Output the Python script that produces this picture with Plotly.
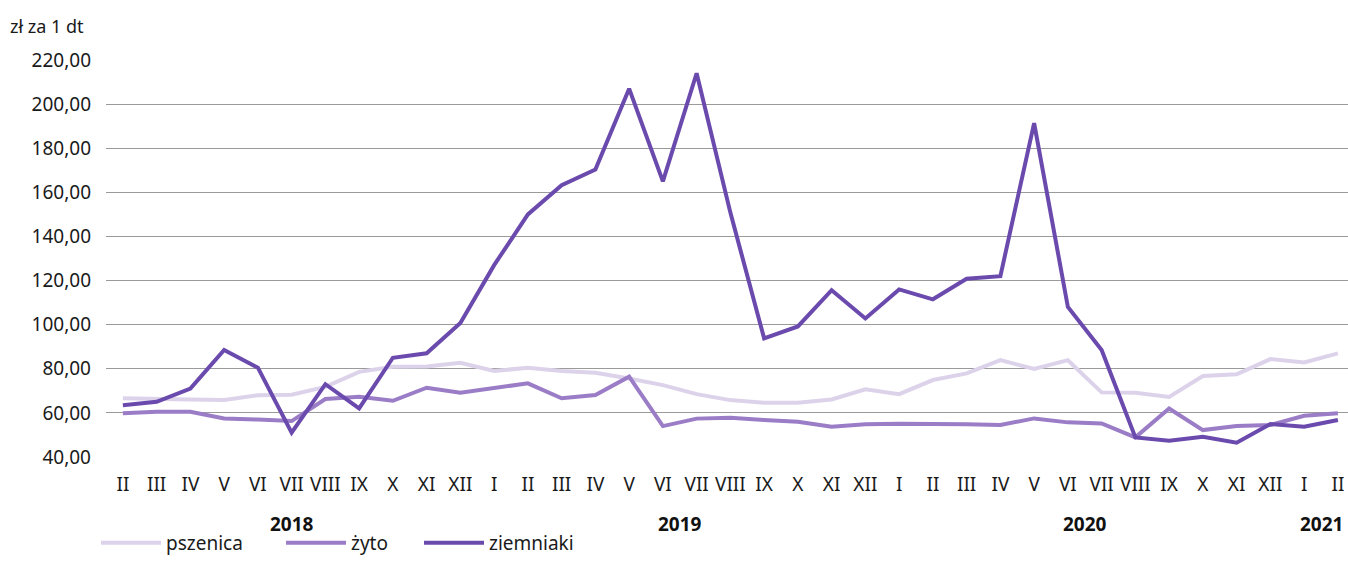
import plotly.graph_objects as go

months = ["II", "III", "IV", "V", "VI", "VII", "VIII", "IX", "X", "XI", "XII",
          "I", "II", "III", "IV", "V", "VI", "VII", "VIII", "IX", "X", "XI", "XII",
          "I", "II", "III", "IV", "V", "VI", "VII", "VIII", "IX", "X", "XI", "XII",
          "I", "II"]

pszenica = [66.6, 66.5, 66.1, 65.8, 68.0, 68.2, 71.8, 78.6, 80.9, 81.0, 82.7,
            79.0, 80.5, 79.0, 78.2, 75.6, 72.6, 68.5, 65.8, 64.6, 64.6, 66.1, 70.7,
            68.5, 74.9, 77.9, 83.9, 79.9, 83.9, 69.3, 69.1, 67.2, 76.7, 77.5, 84.4,
            82.9, 87.0]

zyto = [59.8, 60.5, 60.5, 57.5, 57.0, 56.3, 66.3, 67.3, 65.5, 71.4, 69.1,
        71.4, 73.4, 66.6, 68.1, 76.4, 54.0, 57.4, 57.8, 56.8, 56.0, 53.7, 54.8,
        55.1, 55.1, 54.8, 54.5, 57.5, 55.7, 55.2, 48.9, 62.0, 52.2, 54.0, 54.5,
        58.7, 59.8]

ziemniaki = [63.5, 65.0, 71.0, 88.5, 80.5, 51.0, 73.0, 62.0, 85.0, 87.0, 100.8,
             127.0, 150.0, 163.2, 170.3, 207.0, 165.0, 214.0, 150.8, 93.8, 99.2, 115.6, 102.8,
             116.0, 111.5, 120.8, 122.0, 191.4, 108.0, 88.5, 48.9, 47.4, 49.2, 46.5, 55.0,
             53.7, 56.8]

years = ["2018", "2019", "2020", "2021"]
year_pos = [5, 16.5, 28.5, 35.5]

ytick_vals = [40, 60, 80, 100, 120, 140, 160, 180, 200, 220]
ytick_text = ["40,00", "60,00", "80,00", "100,00", "120,00", "140,00",
              "160,00", "180,00", "200,00", "220,00"]

FONT = "Noto Sans"
x = list(range(len(months)))

series = [
    ("pszenica", pszenica, "#DCD3EB", "legend"),
    ("żyto", zyto, "#9A7DC6", "legend2"),
    ("ziemniaki", ziemniaki, "#6B4AAD", "legend3"),
]

fig = go.Figure()
for name, vals, col, lg in series:
    fig.add_trace(go.Scatter(x=x, y=vals, name=name, mode="lines",
                             line=dict(color=col, width=4), legend=lg))

L, T, B, H = 106, 59.5, 105, 562
W = 1348 - L
PH = H - T - B


def px(p):
    return (p - L) / W


def py(p):
    return 1 - (p - T) / PH


leg_common = dict(orientation="h", yanchor="bottom", xanchor="left",
                  font=dict(family=FONT, size=19, color="#1a1a1a"),
                  bgcolor="rgba(0,0,0,0)", borderwidth=0, itemwidth=60)

fig.update_layout(
    width=1348, height=562,
    margin=dict(l=L, r=0, t=T, b=B, autoexpand=False),
    paper_bgcolor="white", plot_bgcolor="white",
    font=dict(family=FONT, size=19, color="#1a1a1a"),
    showlegend=True,
    legend=dict(x=px(96), y=py(562), **leg_common),
    legend2=dict(x=px(281), y=py(562), **leg_common),
    legend3=dict(x=px(419), y=py(562), **leg_common),
    xaxis=dict(range=[-0.5, 36.3], tickmode="array", tickvals=x, ticktext=months,
               showgrid=False, zeroline=False, showline=False, ticks="",
               ticklabelstandoff=14, automargin=False,
               tickfont=dict(family=FONT, size=19, color="#1a1a1a")),
    yaxis=dict(range=[40, 220], tickmode="array", tickvals=ytick_vals, ticktext=ytick_text,
               showgrid=True, gridcolor="#9a9a9a", gridwidth=1.3, zeroline=False,
               showline=False, ticks="", ticklabelstandoff=14, automargin=False,
               tickfont=dict(family=FONT, size=19, color="#1a1a1a")),
)

for yr, pos in zip(years, year_pos):
    fig.add_annotation(x=pos, y=py(524), xref="x", yref="paper", text="<b>" + yr + "</b>",
                       showarrow=False, yanchor="middle",
                       font=dict(family=FONT, size=19, color="#111"))

fig.add_annotation(x=px(8), y=py(25), xref="paper", yref="paper", text="zł za 1 dt",
                   showarrow=False, xanchor="left", yanchor="middle",
                   font=dict(family=FONT, size=18, color="#1a1a1a"))

fig.write_html("out.html", config={"displayModeBar": False},
               post_script="document.body.style.margin='0';document.body.style.overflow='hidden';")
